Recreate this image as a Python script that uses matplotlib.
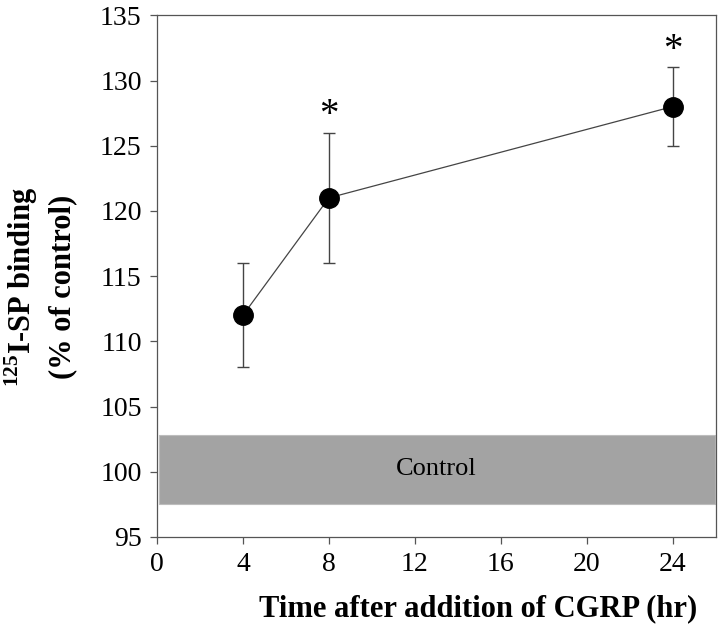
import numpy as np
import matplotlib
matplotlib.use('Agg')
import matplotlib.pyplot as plt

plt.rcParams['font.family'] = 'Liberation Serif'
plt.rcParams['mathtext.fontset'] = 'custom'
plt.rcParams['mathtext.rm'] = 'Liberation Serif:bold'
plt.rcParams['mathtext.bf'] = 'Liberation Serif:bold'

# data
hours = [4, 8, 24]
binding = [112, 121, 128]
sem = [4, 5, 3]
significant = [False, True, True]

control_low = 97.5
control_high = 102.85

xticks = [0, 4, 8, 12, 16, 20, 24]
yticks = [95, 100, 105, 110, 115, 120, 125, 130, 135]

fig = plt.figure(figsize=(7.2, 6.37), dpi=100)
ax = fig.add_axes([0.218, 0.157, 0.776, 0.819])

# control band
ax.axhspan(control_low, control_high, xmin=0.004, xmax=0.998,
           facecolor='#a3a3a3', edgecolor='#bdbdbd', lw=0.8, zorder=1)
ax.text(13.0, (control_low + control_high) / 2, 'Control',
        ha='center', va='center', fontsize=19)

ax.errorbar(hours, binding, yerr=sem, fmt='o', color='black', ms=14,
            ecolor='#444444', elinewidth=1, capsize=4, capthick=1, zorder=3)
ax.plot(hours, binding, color='#444444', lw=0.9, zorder=2)

for h, b, e, s in zip(hours, binding, sem, significant):
    if s:
        ax.text(h, b + e + 1.3, '*', ha='center', va='center',
                fontsize=28)

ax.set_xlim(0, 26)
ax.set_ylim(95, 135)
ax.set_xticks(xticks)
ax.set_yticks(yticks)
ax.tick_params(labelsize=20, length=5, width=0.9, color='#555555',
               direction='out', top=False, right=False, pad=6)
for sp in ax.spines.values():
    sp.set_color('#555555')
    sp.set_linewidth(0.9)

ax.set_xlabel('Time after addition of CGRP (hr)', fontsize=22,
              fontweight='bold')
ax.xaxis.set_label_coords(0.575, -0.11)
ax.set_ylabel('$^{125}$I-SP binding\n(% of control)', fontsize=22,
              fontweight='bold', linespacing=1.35)
ax.yaxis.set_label_coords(-0.143, 0.48)

fig.savefig('out.png', dpi=100)
